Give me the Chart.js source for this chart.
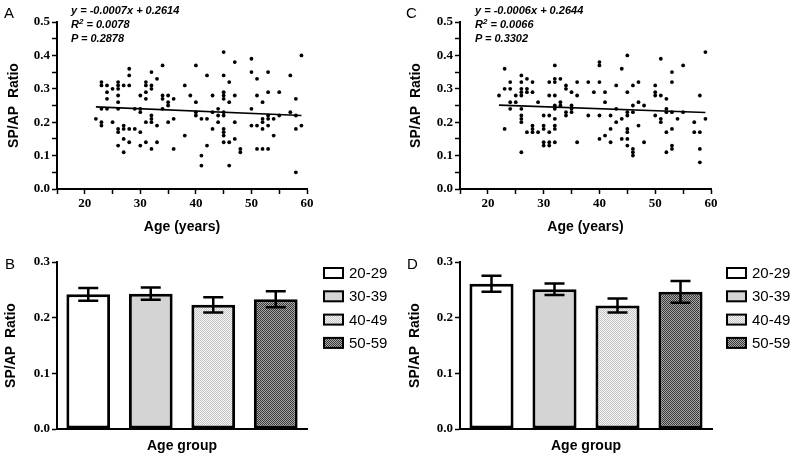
<!DOCTYPE html>
<html><head><meta charset="utf-8">
<script src="https://cdn.jsdelivr.net/npm/chart.js@4.4.1/dist/chart.umd.min.js"></script>
<style>
body{margin:0;background:#fff;width:794px;height:458px;position:relative;overflow:hidden;font-family:"Liberation Sans",Arial,sans-serif;color:#000}
canvas{position:absolute}
.pl{position:absolute;font:15px/15px "Liberation Sans",Arial,sans-serif}
.eq{position:absolute;font:italic bold 11px/14px "Liberation Sans",Arial,sans-serif;white-space:nowrap}
.eq sup{font-size:8px;line-height:0;vertical-align:4px}
</style></head><body>
<canvas id="cA" width="400" height="240" style="left:0;top:0"></canvas>
<canvas id="cC" width="394" height="240" style="left:400px;top:0"></canvas>
<canvas id="cB" width="400" height="218" style="left:0;top:240px"></canvas>
<canvas id="cD" width="394" height="218" style="left:400px;top:240px"></canvas>
<div class="pl" style="left:4px;top:5px">A</div>
<div class="pl" style="left:406px;top:5px">C</div>
<div class="pl" style="left:5px;top:256px">B</div>
<div class="pl" style="left:407px;top:256px">D</div>
<div class="eq" id="eqA" style="left:71px;top:3px"></div>
<div class="eq" id="eqC" style="left:475px;top:3px"></div>
<script>
// ---------- DATA ----------
// Panel A scatter (age, SP/AP ratio)
const ageA = [
 22,
 23,23,23,23,23,
 24,24,24,24,
 25,25,
 26,26,26,26,26,26,26,26,26,
 27,27,27,27,27,
 28,28,28,28,28,
 29,29,
 30,30,30,30,30,
 31,31,31,31,31,31,
 32,32,32,32,32,32,32,
 33,33,33,
 34,34,34,34,
 35,35,35,35,
 36,36,36,
 38,38,
 39,
 40,40,40,40,
 41,41,41,
 42,42,42,
 43,43,43,
 44,44,44,
 45,45,45,45,45,45,45,45,45,45,45,
 46,46,46,46,
 47,47,47,47,
 48,48,
 50,50,50,50,
 51,51,51,51,
 52,52,52,52,52,
 53,53,53,53,53,53,
 54,54,
 55,55,
 57,57,
 58,58,58,58,
 59,59
];
const ratioA = [
 0.21,
 0.32,0.31,0.24,0.20,0.19,
 0.31,0.29,0.27,0.24,
 0.30,0.20,
 0.32,0.31,0.30,0.28,0.26,0.24,0.18,0.17,0.13,
 0.31,0.19,0.18,0.15,0.11,
 0.36,0.34,0.31,0.18,0.14,
 0.24,0.18,
 0.28,0.24,0.23,0.17,0.13,
 0.32,0.31,0.29,0.27,0.20,0.14,
 0.35,0.31,0.30,0.22,0.21,0.20,0.12,
 0.33,0.19,0.14,
 0.37,0.28,0.27,0.24,
 0.28,0.26,0.25,0.20,
 0.27,0.21,0.12,
 0.31,0.16,
 0.28,
 0.37,0.26,0.23,0.22,
 0.21,0.10,0.07,
 0.34,0.21,0.13,
 0.28,0.23,0.18,
 0.24,0.22,0.20,
 0.41,0.34,0.29,0.28,0.27,0.23,0.22,0.18,0.17,0.16,0.14,
 0.32,0.26,0.14,0.07,
 0.38,0.28,0.20,0.15,
 0.12,0.11,
 0.39,0.35,0.24,0.19,
 0.33,0.28,0.19,0.12,
 0.26,0.21,0.20,0.18,0.12,
 0.35,0.29,0.22,0.21,0.19,0.12,
 0.21,0.16,
 0.29,0.22,
 0.34,0.23,
 0.27,0.22,0.18,0.05,
 0.40,0.19
];
// Panel C scatter
const ageC = [
 22,
 23,23,23,
 24,24,24,24,
 25,25,
 26,26,26,26,26,26,26,26,26,26,
 27,27,27,27,
 28,28,28,28,28,
 29,29,
 30,30,30,30,30,
 31,31,31,31,31,31,
 32,32,32,32,32,32,32,32,32,32,
 33,33,33,
 34,34,34,34,
 35,35,35,35,
 36,36,36,
 38,38,
 39,
 40,40,40,40,40,
 41,41,41,
 42,42,42,
 43,43,43,
 44,44,44,
 45,45,45,45,45,45,45,45,
 46,46,46,46,46,46,
 47,47,47,
 48,48,
 50,50,50,50,
 51,51,51,51,
 52,52,52,52,52,
 53,53,53,53,53,53,
 54,
 55,55,
 57,57,
 58,58,58,58,
 59,59
];
const ratioC = [
 0.28,
 0.36,0.30,0.18,
 0.32,0.30,0.26,0.24,
 0.28,0.26,
 0.34,0.32,0.30,0.29,0.28,0.24,0.22,0.21,0.20,0.11,
 0.33,0.30,0.29,0.17,
 0.32,0.29,0.19,0.18,0.17,
 0.26,0.17,
 0.22,0.19,0.18,0.14,0.13,
 0.32,0.28,0.22,0.17,0.14,0.13,
 0.37,0.33,0.32,0.28,0.25,0.24,0.21,0.19,0.18,0.14,
 0.33,0.26,0.25,
 0.31,0.30,0.23,0.22,
 0.29,0.25,0.24,0.23,
 0.32,0.28,0.14,
 0.32,0.22,
 0.29,
 0.38,0.37,0.32,0.22,0.15,
 0.29,0.26,0.16,
 0.22,0.18,0.14,
 0.31,0.24,0.20,
 0.36,0.21,0.15,
 0.40,0.29,0.23,0.22,0.18,0.17,0.15,0.13,
 0.31,0.25,0.23,0.12,0.11,0.10,
 0.32,0.26,0.19,
 0.25,0.14,
 0.31,0.29,0.28,0.22,
 0.39,0.28,0.21,0.20,
 0.27,0.24,0.23,0.17,0.11,
 0.35,0.32,0.23,0.18,0.13,0.12,
 0.21,
 0.37,0.23,
 0.20,0.17,
 0.28,0.17,0.12,0.08,
 0.41,0.21
];
// Regression statistics
const fitA = [-0.0007, 0.2614];   // slope, intercept
const statsA = ['0.0078', '0.2878']; // R2, P
const fitC = [-0.0006, 0.2644];
const statsC = ['0.0066', '0.3302'];
// Bar panels
const groupLabels = ['20-29', '30-39', '40-49', '50-59'];
const meanB = [0.242, 0.243, 0.223, 0.233];
const semB  = [0.0115, 0.011, 0.0135, 0.0145];
const meanD = [0.261, 0.251, 0.222, 0.2465];
const semD  = [0.0145, 0.0105, 0.0125, 0.0195];

// ---------- STYLE ----------
function makePattern(base, dot) {
  const p = document.createElement('canvas');
  p.width = 2; p.height = 2;
  const x = p.getContext('2d');
  x.fillStyle = base; x.fillRect(0, 0, 2, 2);
  x.fillStyle = dot; x.fillRect(0, 0, 1, 1); x.fillRect(1, 1, 1, 1);
  return x.createPattern(p, 'repeat');
}
const fills = ['#ffffff', '#d4d4d4', makePattern('#f6f6f6', '#c4c4c4'), makePattern('#a8a8a8', '#383838')];
const tickFont = {family: '"Liberation Serif", "Times New Roman", serif', size: 13, weight: 'bold'};
const titleFont = {family: '"Liberation Sans", Arial, sans-serif', size: 14, weight: 'bold'};

function eqHtml(fit, stats) {
  const s = fit[0] < 0 ? '-' + Math.abs(fit[0]).toFixed(4) : fit[0].toFixed(4);
  return 'y = ' + s + 'x + ' + fit[1].toFixed(4) + '<br>R<sup>2</sup> = ' + stats[0] + '<br>P = ' + stats[1];
}
document.getElementById('eqA').innerHTML = eqHtml(fitA, statsA);
document.getElementById('eqC').innerHTML = eqHtml(fitC, statsC);

function yAxis(max, step, width, titlePad, labelFn) {
  return {
    min: 0, max: max,
    afterFit: s => { s.width = width; },
    ticks: {stepSize: step, autoSkip: false, padding: 2, color: '#000', font: tickFont, callback: labelFn},
    grid: {display: true, drawOnChartArea: false, drawTicks: true, tickLength: 5, color: '#000', tickWidth: 1.5},
    border: {display: true, color: '#000', width: 2},
    title: {display: true, text: 'SP/AP  Ratio', color: '#000', font: titleFont, padding: {top: titlePad, bottom: 0}}
  };
}

function scatterChart(id, ages, ratios, fit, yW, padR, yTitlePad) {
  const pts = ages.map((a, i) => ({x: a, y: ratios[i]}));
  const x0 = Math.min(...ages), x1 = Math.max(...ages);
  return new Chart(document.getElementById(id), {
    type: 'scatter',
    data: {datasets: [
      {type: 'line', data: [{x: x0, y: fit[1] + fit[0] * x0}, {x: x1, y: fit[1] + fit[0] * x1}],
       borderColor: '#000', borderWidth: 1.6, pointRadius: 0, fill: false, order: 1},
      {type: 'scatter', data: pts, pointRadius: 1.9, pointHoverRadius: 1.9,
       backgroundColor: '#000', borderColor: '#000', borderWidth: 0, order: 2}
    ]},
    options: {
      responsive: false, animation: false, events: [],
      layout: {padding: {left: 0, top: 22, right: padR, bottom: 0}},
      plugins: {legend: {display: false}, tooltip: {enabled: false}},
      scales: {
        x: {
          type: 'linear', min: 15, max: 60,
          afterFit: s => { s.height = 51; },
          ticks: {stepSize: 5, autoSkip: false, maxRotation: 0, padding: 2, color: '#000', font: tickFont,
                  callback: v => (v % 10 === 0 && v >= 20) ? String(v) : ''},
          grid: {display: true, drawOnChartArea: false, drawTicks: true, tickLength: 5, color: '#000', tickWidth: 1.5},
          border: {display: true, color: '#000', width: 2},
          title: {display: true, text: 'Age (years)', color: '#000', font: titleFont, padding: {top: 0, bottom: 4}}
        },
        y: yAxis(0.5, 0.05, yW, yTitlePad, v => { const r = Math.round(v * 100); return r % 10 === 0 ? (r / 100).toFixed(1) : ''; })
      }
    }
  });
}

const errorBarPlugin = {
  id: 'errorBars',
  afterDatasetsDraw(chart, args, opts) {
    const {ctx} = chart;
    const xs = chart.scales.x, ys = chart.scales.y;
    ctx.save();
    ctx.strokeStyle = '#000';
    ctx.lineWidth = 2.5;
    opts.means.forEach((m, i) => {
      const x = xs.getPixelForValue(i);
      const yt = ys.getPixelForValue(m + opts.sems[i]);
      const yb = ys.getPixelForValue(m - opts.sems[i]);
      ctx.beginPath();
      ctx.moveTo(x, yt); ctx.lineTo(x, yb);
      ctx.moveTo(x - 10, yt); ctx.lineTo(x + 10, yt);
      ctx.moveTo(x - 10, yb); ctx.lineTo(x + 10, yb);
      ctx.stroke();
    });
    ctx.restore();
  }
};
const legendPlugin = {
  id: 'sideLegend',
  afterDraw(chart, args, opts) {
    const {ctx} = chart;
    ctx.save();
    opts.labels.forEach((lab, i) => {
      const cy = opts.y0 + i * opts.dy;
      ctx.fillStyle = opts.fills[i];
      ctx.fillRect(opts.x, cy - 5, 19, 10);
      ctx.strokeStyle = '#000';
      ctx.lineWidth = 2;
      ctx.strokeRect(opts.x, cy - 5, 19, 10);
      ctx.fillStyle = '#000';
      ctx.font = '15px "Liberation Sans", Arial, sans-serif';
      ctx.textBaseline = 'middle';
      ctx.textAlign = 'left';
      ctx.fillText(lab, opts.x + 25, cy + 1);
    });
    ctx.restore();
  }
};

function barChart(id, means, sems, yW, padR, yTitlePad, legendX) {
  return new Chart(document.getElementById(id), {
    type: 'bar',
    data: {labels: groupLabels, datasets: [{
      data: means, backgroundColor: fills, borderColor: '#000', borderWidth: 3, borderSkipped: false,
      barPercentage: 0.7, categoryPercentage: 1
    }]},
    options: {
      responsive: false, animation: false, events: [],
      layout: {padding: {left: 0, top: 22, right: padR, bottom: 0}},
      plugins: {
        legend: {display: false}, tooltip: {enabled: false},
        errorBars: {means: means, sems: sems},
        sideLegend: {labels: groupLabels, fills: fills, x: legendX, y0: 33, dy: 23.3}
      },
      scales: {
        x: {
          afterFit: s => { s.height = 29; },
          ticks: {display: false},
          grid: {display: true, drawOnChartArea: false, drawTicks: false, color: '#000'},
          border: {display: true, color: '#000', width: 2},
          title: {display: true, text: 'Age group', color: '#000', font: titleFont, padding: {top: 0, bottom: 3}}
        },
        y: yAxis(0.3, 0.1, yW, yTitlePad, v => v.toFixed(1))
      }
    },
    plugins: [errorBarPlugin, legendPlugin]
  });
}

scatterChart('cA', ageA, ratioA, fitA, 57, 93, 6);
scatterChart('cC', ageC, ratioC, fitC, 60, 83, 8);
barChart('cB', meanB, semB, 57, 93, 3, 324);
barChart('cD', meanD, semD, 60, 82, 7, 327);
</script>
</body></html>
